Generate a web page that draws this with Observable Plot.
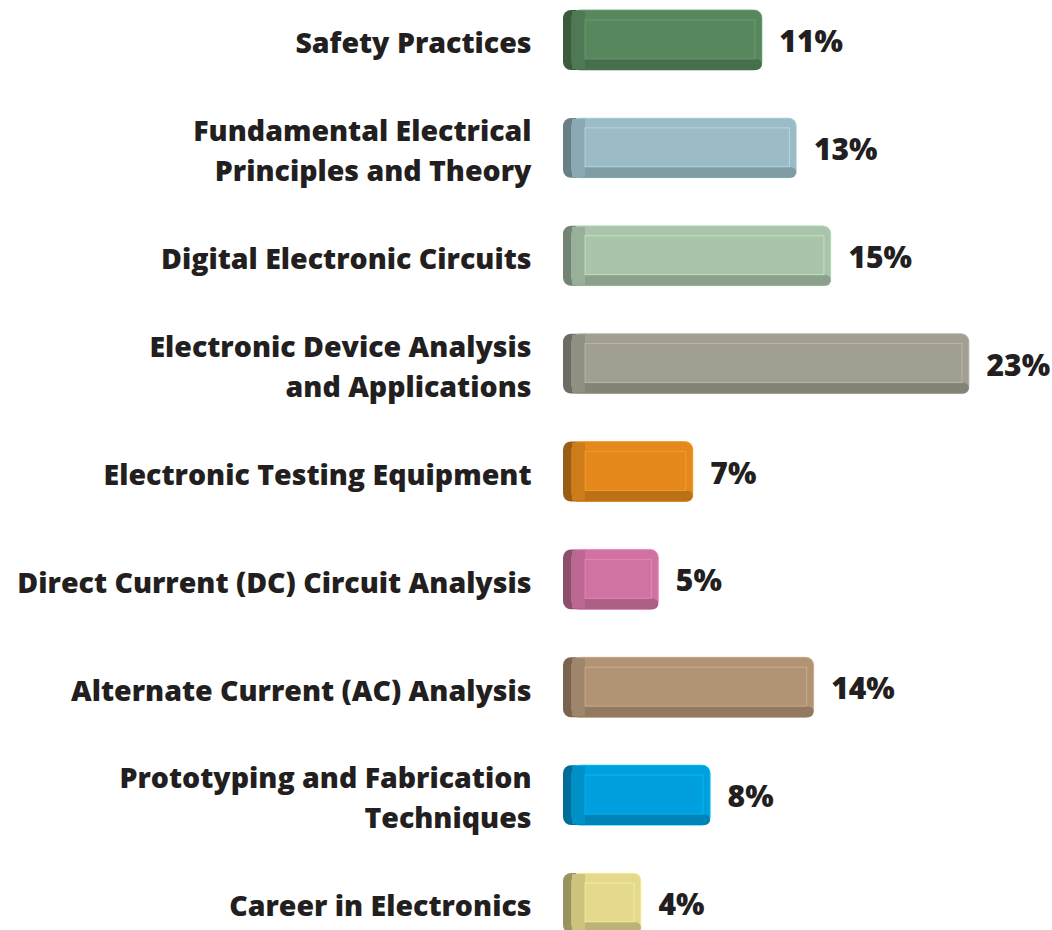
<!DOCTYPE html>
<html>
<head>
<meta charset="utf-8">
<script src="https://cdn.jsdelivr.net/npm/d3@7"></script>
<script src="https://cdn.jsdelivr.net/npm/@observablehq/plot@0.6"></script>
<style>
  html, body { margin: 0; padding: 0; background: #ffffff; }
  #chart svg { display: block; }
</style>
</head>
<body>
<div id="chart"></div>
<script>
const categories = [
  "Safety Practices",
  "Fundamental Electrical Principles and Theory",
  "Digital Electronic Circuits",
  "Electronic Device Analysis and Applications",
  "Electronic Testing Equipment",
  "Direct Current (DC) Circuit Analysis",
  "Alternate Current (AC) Analysis",
  "Prototyping and Fabrication Techniques",
  "Career in Electronics"
];
const labels = [
  "Safety Practices",
  "Fundamental Electrical\nPrinciples and Theory",
  "Digital Electronic Circuits",
  "Electronic Device Analysis\nand Applications",
  "Electronic Testing Equipment",
  "Direct Current (DC) Circuit Analysis",
  "Alternate Current (AC) Analysis",
  "Prototyping and Fabrication\nTechniques",
  "Career in Electronics"
];
const values = [11, 13, 15, 23, 7, 5, 14, 8, 4];
const colors = ["#58875e", "#9bbcc6", "#a9c4aa", "#a19f91", "#e5891d", "#d073a2", "#b19475", "#00a0df", "#e4d98c"];

const rows = categories.map((c, i) => ({cat: c, label: labels[i], value: values[i], color: colors[i]}));
const shade = (c, k) => d3.color(c).darker(k).formatHex();
const tint = (c, k) => d3.color(c).brighter(k).formatHex();

const font = "'Open Sans', Lato, sans-serif";

const chart = Plot.plot({
  width: 1052,
  height: 930,
  marginLeft: 0, marginRight: 0, marginTop: 0, marginBottom: 0,
  x: {domain: [0, 23], range: [572, 969], axis: null},
  y: {domain: categories, range: [10, 933], paddingInner: 0.444, paddingOuter: 0, round: false, axis: null},
  style: {fontFamily: font, background: "#ffffff"},
  marks: [
    // left side face (3D depth)
    Plot.barX(rows, {x1: 0, x2: "value", y: "cat", insetLeft: -9, rx: 8, fill: d => shade(d.color, 1.1)}),
    // front body
    Plot.barX(rows, {x1: 0, x2: "value", y: "cat", rx: 8, fill: d => d.color, stroke: d => tint(d.color, 0.6), strokeWidth: 1, strokeOpacity: 0.8}),
    // bottom bevel
    Plot.barX(rows, {x1: 0, x2: "value", y: "cat", insetTop: 49, rx: 6, fill: d => shade(d.color, 0.55)}),
    // left bevel
    Plot.barX(rows, {x1: 0, x2: 0, y: "cat", insetRight: -13, insetTop: 1, insetBottom: 1, fill: d => shade(d.color, 0.3)}),
    // inner face
    Plot.barX(rows, {x1: 0, x2: "value", y: "cat", insetLeft: 13, insetRight: 7, insetTop: 10, insetBottom: 11,
      fill: d => d.color, stroke: d => tint(d.color, 0.7), strokeWidth: 1, strokeOpacity: 0.55}),
    // value labels
    Plot.text(rows, {x: "value", y: "cat", text: d => d.value + "%", textAnchor: "start", dx: 17, dy: 2,
      fontSize: 30, fontWeight: 800, fill: "#231f20"}),
    // category labels
    Plot.text(rows, {x: 0, y: "cat", text: "label", textAnchor: "end", dx: -41, dy: 0, lineHeight: 1.4,
      fontSize: 28.5, fontWeight: 800, fill: "#231f20"})
  ]
});
document.getElementById("chart").appendChild(chart);
</script>
</body>
</html>
